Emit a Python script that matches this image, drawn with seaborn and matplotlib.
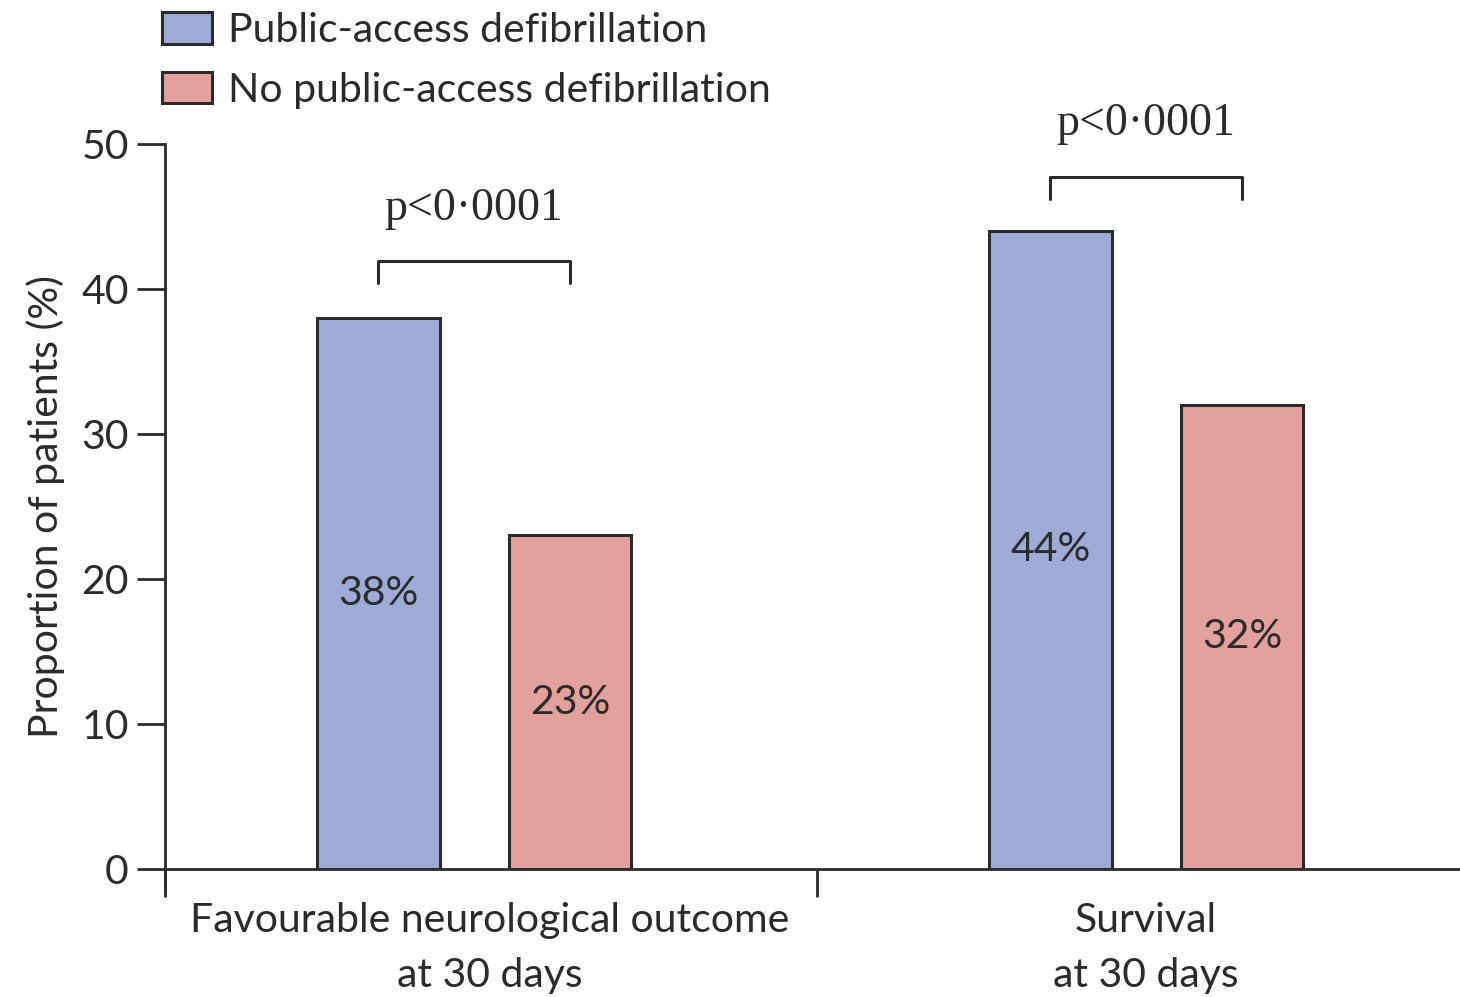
import matplotlib
matplotlib.use("Agg")
import matplotlib.pyplot as plt
import matplotlib.transforms as mtransforms
import seaborn as sns
import pandas

"""data"""
outcomes = ["Favourable neurological outcome\nat 30 days", "Survival\nat 30 days"]
groups = ["Public-access defibrillation", "No public-access defibrillation"]
pad_values = [38, 44]
no_pad_values = [23, 32]
p_labels = ["p<0\u00b70001", "p<0\u00b70001"]
bracket_heights = [41.9, 47.7]

df = pandas.DataFrame({
    "Outcome": outcomes * 2,
    "Group": [groups[0]] * 2 + [groups[1]] * 2,
    "Value": pad_values + no_pad_values,
})

sns.set_style("ticks")
plt.rcParams["font.family"] = ["Lato", "DejaVu Sans"]
ink = "#2b2b2b"
colors = ["#9dabd6", "#e3a19e"]
fs = 29.5

fig = plt.figure(figsize=(14.6, 9.97), dpi=100)
ax = fig.add_axes([0.113, 0.1284, 0.887, 0.7272])

sns.barplot(data=df, x="Outcome", y="Value", hue="Group", palette=colors,
            width=0.57, gap=0.36, edgecolor=ink, linewidth=2.2,
            saturation=1, legend=True, ax=ax)

ax.set_ylim(0, 50)
ax.set_xlim(-0.46, 1.467)
ax.set_yticks([0, 10, 20, 30, 40, 50])
ax.tick_params(axis="y", labelsize=fs, colors=ink, length=20, width=2, pad=6)
ax.tick_params(axis="x", which="major", length=0, labelsize=fs, colors=ink, pad=24)
ax.set_xticks([-0.46, 0.51], minor=True)
ax.tick_params(axis="x", which="minor", length=20, width=2, color=ink)
ax.set_xlabel("")
ax.set_ylabel("Proportion of patients (%)", fontsize=fs, color=ink, labelpad=12)
for lbl in ax.get_xticklabels():
    lbl.set_linespacing(1.6)
# first category label sits a little right of the group centre
first = ax.get_xticklabels()[0]
first.set_transform(first.get_transform() + mtransforms.ScaledTranslation(0.16, 0, fig.dpi_scale_trans))

sns.despine(ax=ax, right=True, top=True)
ax.spines["left"].set_linewidth(2)
ax.spines["bottom"].set_linewidth(2)
ax.spines["left"].set_color(ink)
ax.spines["bottom"].set_color(ink)
ax.spines["left"].set_bounds(-1.5, 50)
ax.spines["left"].set_clip_on(False)

# value labels inside bars
for cont in ax.containers:
    for bar in cont:
        h = bar.get_height()
        ax.text(bar.get_x() + bar.get_width() / 2, h / 2, f"{h:.0f}%",
                ha="center", va="center", fontsize=fs, color=ink)

# significance brackets
blue_bars = ax.containers[0]
red_bars = ax.containers[1]
for i in range(len(outcomes)):
    x1 = blue_bars[i].get_x() + blue_bars[i].get_width() / 2
    x2 = red_bars[i].get_x() + red_bars[i].get_width() / 2
    y = bracket_heights[i]
    ax.plot([x1, x1, x2, x2], [y - 1.5, y, y, y - 1.5], color=ink, lw=2.2, clip_on=False)
    ax.text((x1 + x2) / 2, y + 2.2, p_labels[i], ha="center", va="bottom",
            fontsize=33, color=ink, family=["Liberation Serif", "DejaVu Serif"],
            clip_on=False)

# legend
ax.legend(loc="upper left", bbox_to_anchor=(0.1, 1.004), bbox_transform=fig.transFigure,
          frameon=False, fontsize=fs, handlelength=1.2, handleheight=0.8,
          handletextpad=0.4, labelspacing=0.55, borderaxespad=0, labelcolor=ink)

plt.savefig("out.png", dpi=100)
